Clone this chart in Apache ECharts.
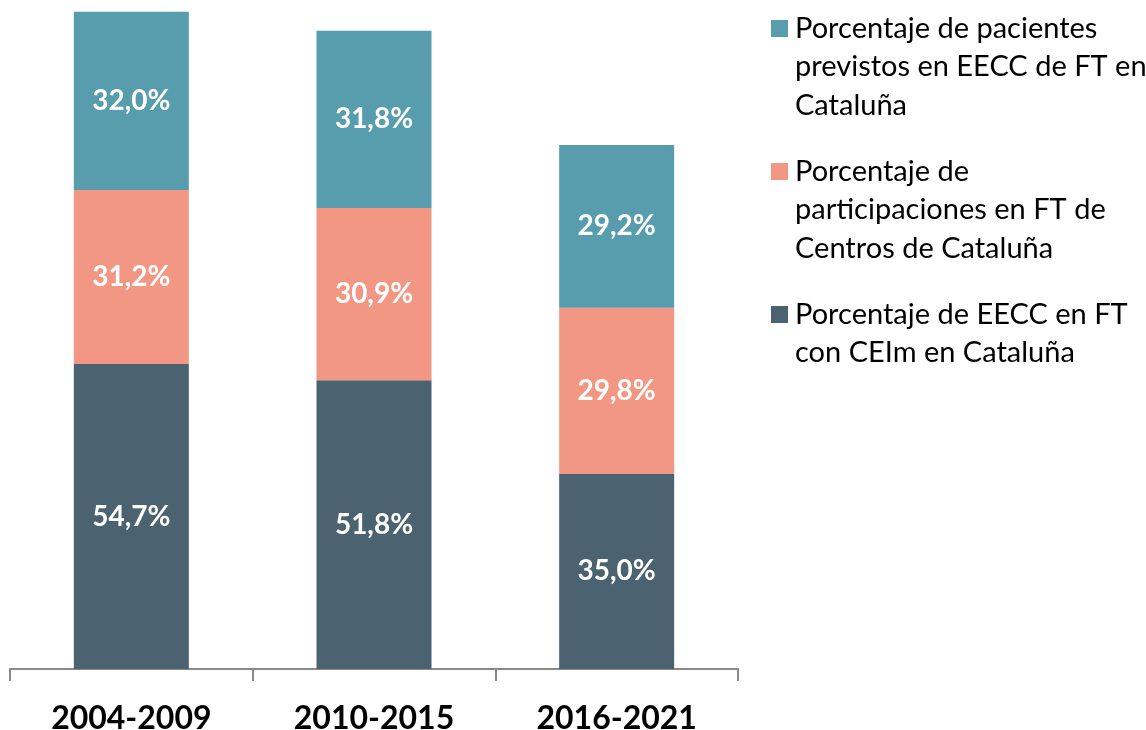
<!DOCTYPE html>
<html>
<head>
<meta charset="utf-8">
<script src="https://cdn.jsdelivr.net/npm/echarts@6/dist/echarts.min.js"></script>
<style>
  html, body { margin: 0; padding: 0; background: #fff; }
  #chart { width: 1146px; height: 730px; }
</style>
</head>
<body>
<div id="chart"></div>
<script>
// periodos
var categories = ["2004-2009", "2010-2015", "2016-2021"];

// nombres de las series (con los saltos de línea de la leyenda)
var nameEECC = "Porcentaje de EECC en FT\ncon CEIm en Cataluña";
var nameParticipaciones = "Porcentaje de\nparticipaciones en FT de\nCentros de Cataluña";
var namePacientes = "Porcentaje de pacientes\nprevistos en EECC de FT en\nCataluña";

// valores (%)
var eeccValues = [54.7, 51.8, 35.0];
var participacionesValues = [31.2, 30.9, 29.8];
var pacientesValues = [32.0, 31.8, 29.2];

var colors = {
  pacientes: "#589DAD",
  participaciones: "#F19784",
  eecc: "#4B6270",
};

var LINE_H = 38.5;

// icono de leyenda: cuadrado alineado con la primera línea del texto
var ICON = "path://M0,0L19,0Z M0,11h17v17h-17z M0," + LINE_H * 3 + "L19," + LINE_H * 3 + "Z";

function fmt(p) {
  return p.value.toFixed(1).replace(".", ",") + "%";
}

var myChart = echarts.init(document.getElementById("chart"));

var labelStyle = {
  show: true,
  position: "inside",
  color: "#fff",
  fontFamily: "Lato",
  fontWeight: "bold",
  fontSize: 28,
  formatter: fmt,
};

function bar(name, data, color) {
  return {
    name: name,
    type: "bar",
    stack: "total",
    barWidth: 115,
    data: data,
    itemStyle: { color: color },
    label: labelStyle,
  };
}

var option = {
  backgroundColor: "#fff",
  animation: false,
  grid: {
    left: 10,
    right: 408,
    top: 0,
    bottom: 61,
    containLabel: false,
    outerBoundsMode: "none",
  },
  legend: {
    orient: "vertical",
    left: 771,
    top: 9,
    padding: 0,
    itemWidth: 19,
    itemHeight: LINE_H * 3,
    itemGap: 27.5,
    selectedMode: false,
    icon: ICON,
    // todas las entradas con 3 líneas para que el texto empiece arriba
    formatter: function (name) {
      var lines = name.split("\n").length;
      return lines < 3 ? name + "\n" : name;
    },
    textStyle: {
      fontFamily: "Lato",
      fontSize: 29,
      lineHeight: LINE_H,
      color: "#000",
    },
    data: [namePacientes, nameParticipaciones, nameEECC],
  },
  xAxis: {
    type: "category",
    data: categories,
    axisLine: {
      show: true,
      lineStyle: { color: "#898989", width: 2 },
    },
    axisTick: {
      show: true,
      length: 12,
      lineStyle: { color: "#898989", width: 2 },
    },
    axisLabel: {
      color: "#000",
      fontFamily: "Lato",
      fontWeight: "bold",
      fontSize: 32,
      margin: 34,
    },
  },
  yAxis: {
    type: "value",
    min: 0,
    max: 120,
    show: false,
    splitLine: { show: false },
  },
  series: [
    bar(nameEECC, eeccValues, colors.eecc),
    bar(nameParticipaciones, participacionesValues, colors.participaciones),
    bar(namePacientes, pacientesValues, colors.pacientes),
  ],
};

myChart.setOption(option);
</script>
</body>
</html>
